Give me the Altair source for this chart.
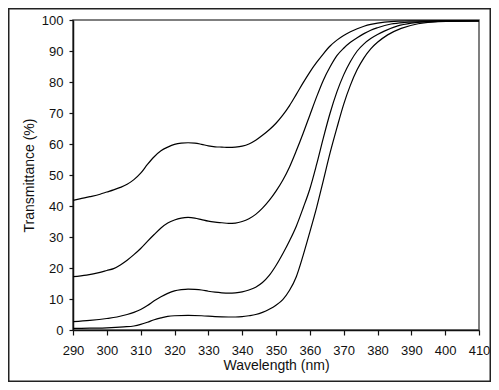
import altair as alt
import pandas as pd

# Curve 1 (top)
wl1 = [290, 292, 295, 298, 300, 302, 304, 306, 308, 310, 312, 314, 316, 318, 320, 322, 324, 326, 328, 330,
       332, 334, 336, 338, 340, 342, 344, 346, 348, 350, 352, 354, 356, 358, 360, 362, 364, 366, 368, 370,
       372, 374, 376, 378, 380, 384, 390, 400, 410]
t1 = [41.8, 42.3, 43.0, 43.8, 44.5, 45.2, 46.0, 47.0, 48.5, 50.6, 53.4, 55.9, 57.8, 59.0, 59.9, 60.3, 60.4, 60.3, 59.9, 59.4,
      59.1, 59.0, 58.9, 59.0, 59.3, 60.0, 61.2, 62.8, 64.6, 66.7, 69.3, 72.4, 76.0, 79.7, 83.2, 86.3, 89.1, 91.6, 93.5, 95.0,
      96.2, 97.2, 98.0, 98.6, 99.0, 99.5, 99.7, 99.8, 99.8]

# Curve 2
wl2 = [290, 294, 298, 300, 302, 304, 306, 308, 310, 312, 314, 316, 318, 320, 322, 324, 326, 328, 330, 332,
       334, 336, 338, 340, 342, 344, 346, 348, 350, 352, 354, 356, 358, 360, 362, 364, 366, 368, 370, 372,
       374, 376, 378, 380, 384, 388, 395, 410]
t2 = [17.2, 17.7, 18.6, 19.2, 19.8, 21.0, 22.5, 24.3, 26.3, 28.6, 30.8, 32.9, 34.5, 35.5, 36.1, 36.3, 36.1, 35.6, 35.1, 34.8,
      34.6, 34.4, 34.5, 35.0, 35.9, 37.3, 39.3, 41.8, 44.8, 48.3, 52.6, 57.8, 63.4, 69.3, 75.2, 80.6, 84.9, 88.5, 90.9, 92.8,
      94.3, 95.6, 96.7, 97.5, 98.7, 99.2, 99.5, 99.7]

# Curve 3
wl3 = [290, 295, 300, 303, 306, 308, 310, 312, 314, 316, 318, 320, 322, 324, 326, 328, 330, 332, 334, 336,
       338, 340, 342, 344, 346, 348, 350, 352, 354, 356, 358, 360, 362, 364, 366, 368, 370, 372, 374, 376,
       378, 380, 382, 386, 390, 395, 410]
t3 = [2.7, 3.1, 3.7, 4.2, 5.0, 5.7, 6.6, 7.9, 9.4, 10.7, 11.8, 12.6, 13.0, 13.2, 13.1, 12.9, 12.5, 12.2, 12.0, 11.9,
      12.0, 12.3, 12.9, 13.8, 15.3, 17.6, 20.8, 24.6, 28.8, 33.5, 39.3, 45.5, 53.4, 62.0, 70.0, 76.8, 82.3, 86.6, 90.0, 92.3,
      94.0, 95.3, 96.4, 98.1, 99.0, 99.5, 99.7]

# Curve 4 (bottom)
wl4 = [290, 295, 300, 305, 308, 310, 312, 314, 316, 318, 320, 324, 328, 332, 336, 338, 340, 342, 344, 346,
       348, 350, 352, 354, 356, 358, 360, 362, 364, 366, 368, 370, 372, 374, 376, 378, 380, 383, 387, 392, 398, 410]
t4 = [0.5, 0.6, 0.7, 1.0, 1.3, 1.8, 2.5, 3.3, 3.9, 4.4, 4.6, 4.7, 4.6, 4.3, 4.2, 4.2, 4.3, 4.6, 5.0, 5.7,
      6.7, 8.0, 9.8, 12.8, 17.2, 24.0, 31.6, 39.5, 48.3, 57.2, 65.2, 72.8, 79.0, 84.0, 87.8, 90.7, 92.8, 95.2, 97.3, 98.8, 99.5, 99.7]

x_ticks = list(range(290, 411, 10))
y_ticks = list(range(0, 101, 10))

rows = []
for name, wls, ts in [("A", wl1, t1), ("B", wl2, t2), ("C", wl3, t3), ("D", wl4, t4)]:
    for w, t in zip(wls, ts):
        rows.append({"series": name, "wavelength": w, "transmittance": t})
df = pd.DataFrame(rows)

W, H = 406, 310
PL, PT, PR, PB = 65, 12, 12, 52

lines = alt.Chart(df).mark_line(color="black", strokeWidth=1.2, interpolate="monotone").encode(
    x=alt.X("wavelength:Q",
            scale=alt.Scale(domain=[290, 410], nice=False, zero=False),
            axis=alt.Axis(values=x_ticks, title="Wavelength (nm)", grid=False, tickSize=5,
                          labelPadding=9, titlePadding=1, format="d",
                          labelFlush=False, labelOverlap=False, labelBound=False)),
    y=alt.Y("transmittance:Q",
            scale=alt.Scale(domain=[0, 100], nice=False),
            axis=alt.Axis(values=y_ticks, title="Transmittance (%)", grid=False, tickSize=4,
                          labelPadding=6, titlePadding=5, format="d",
                          labelFlush=False, labelOverlap=False)),
    detail="series:N",
)

frame = alt.Chart(pd.DataFrame({"k": [0]})).mark_rect(
    fill=None, stroke="#222", strokeWidth=1.5
).encode(
    x=alt.value(-PL + 0.75), x2=alt.value(W + PR - 0.75),
    y=alt.value(-PT + 0.75), y2=alt.value(H + PB - 0.75),
)

chart = alt.layer(lines, frame).properties(
    width=W, height=H,
    autosize=alt.AutoSizeParams(type="none"),
    padding={"left": PL, "top": PT, "right": PR, "bottom": PB},
    background="white",
).configure_view(
    stroke="#555", strokeWidth=1.5
).configure_axis(
    labelFont="Liberation Sans", labelFontSize=13, labelColor="#111",
    titleFont="Liberation Sans", titleFontSize=14, titleFontWeight="normal", titleColor="#111",
    domainColor="#111", domainWidth=1.5, tickColor="#111", tickWidth=1.2,
)

chart.save("out.html", embed_options={"renderer": "svg", "actions": False})
